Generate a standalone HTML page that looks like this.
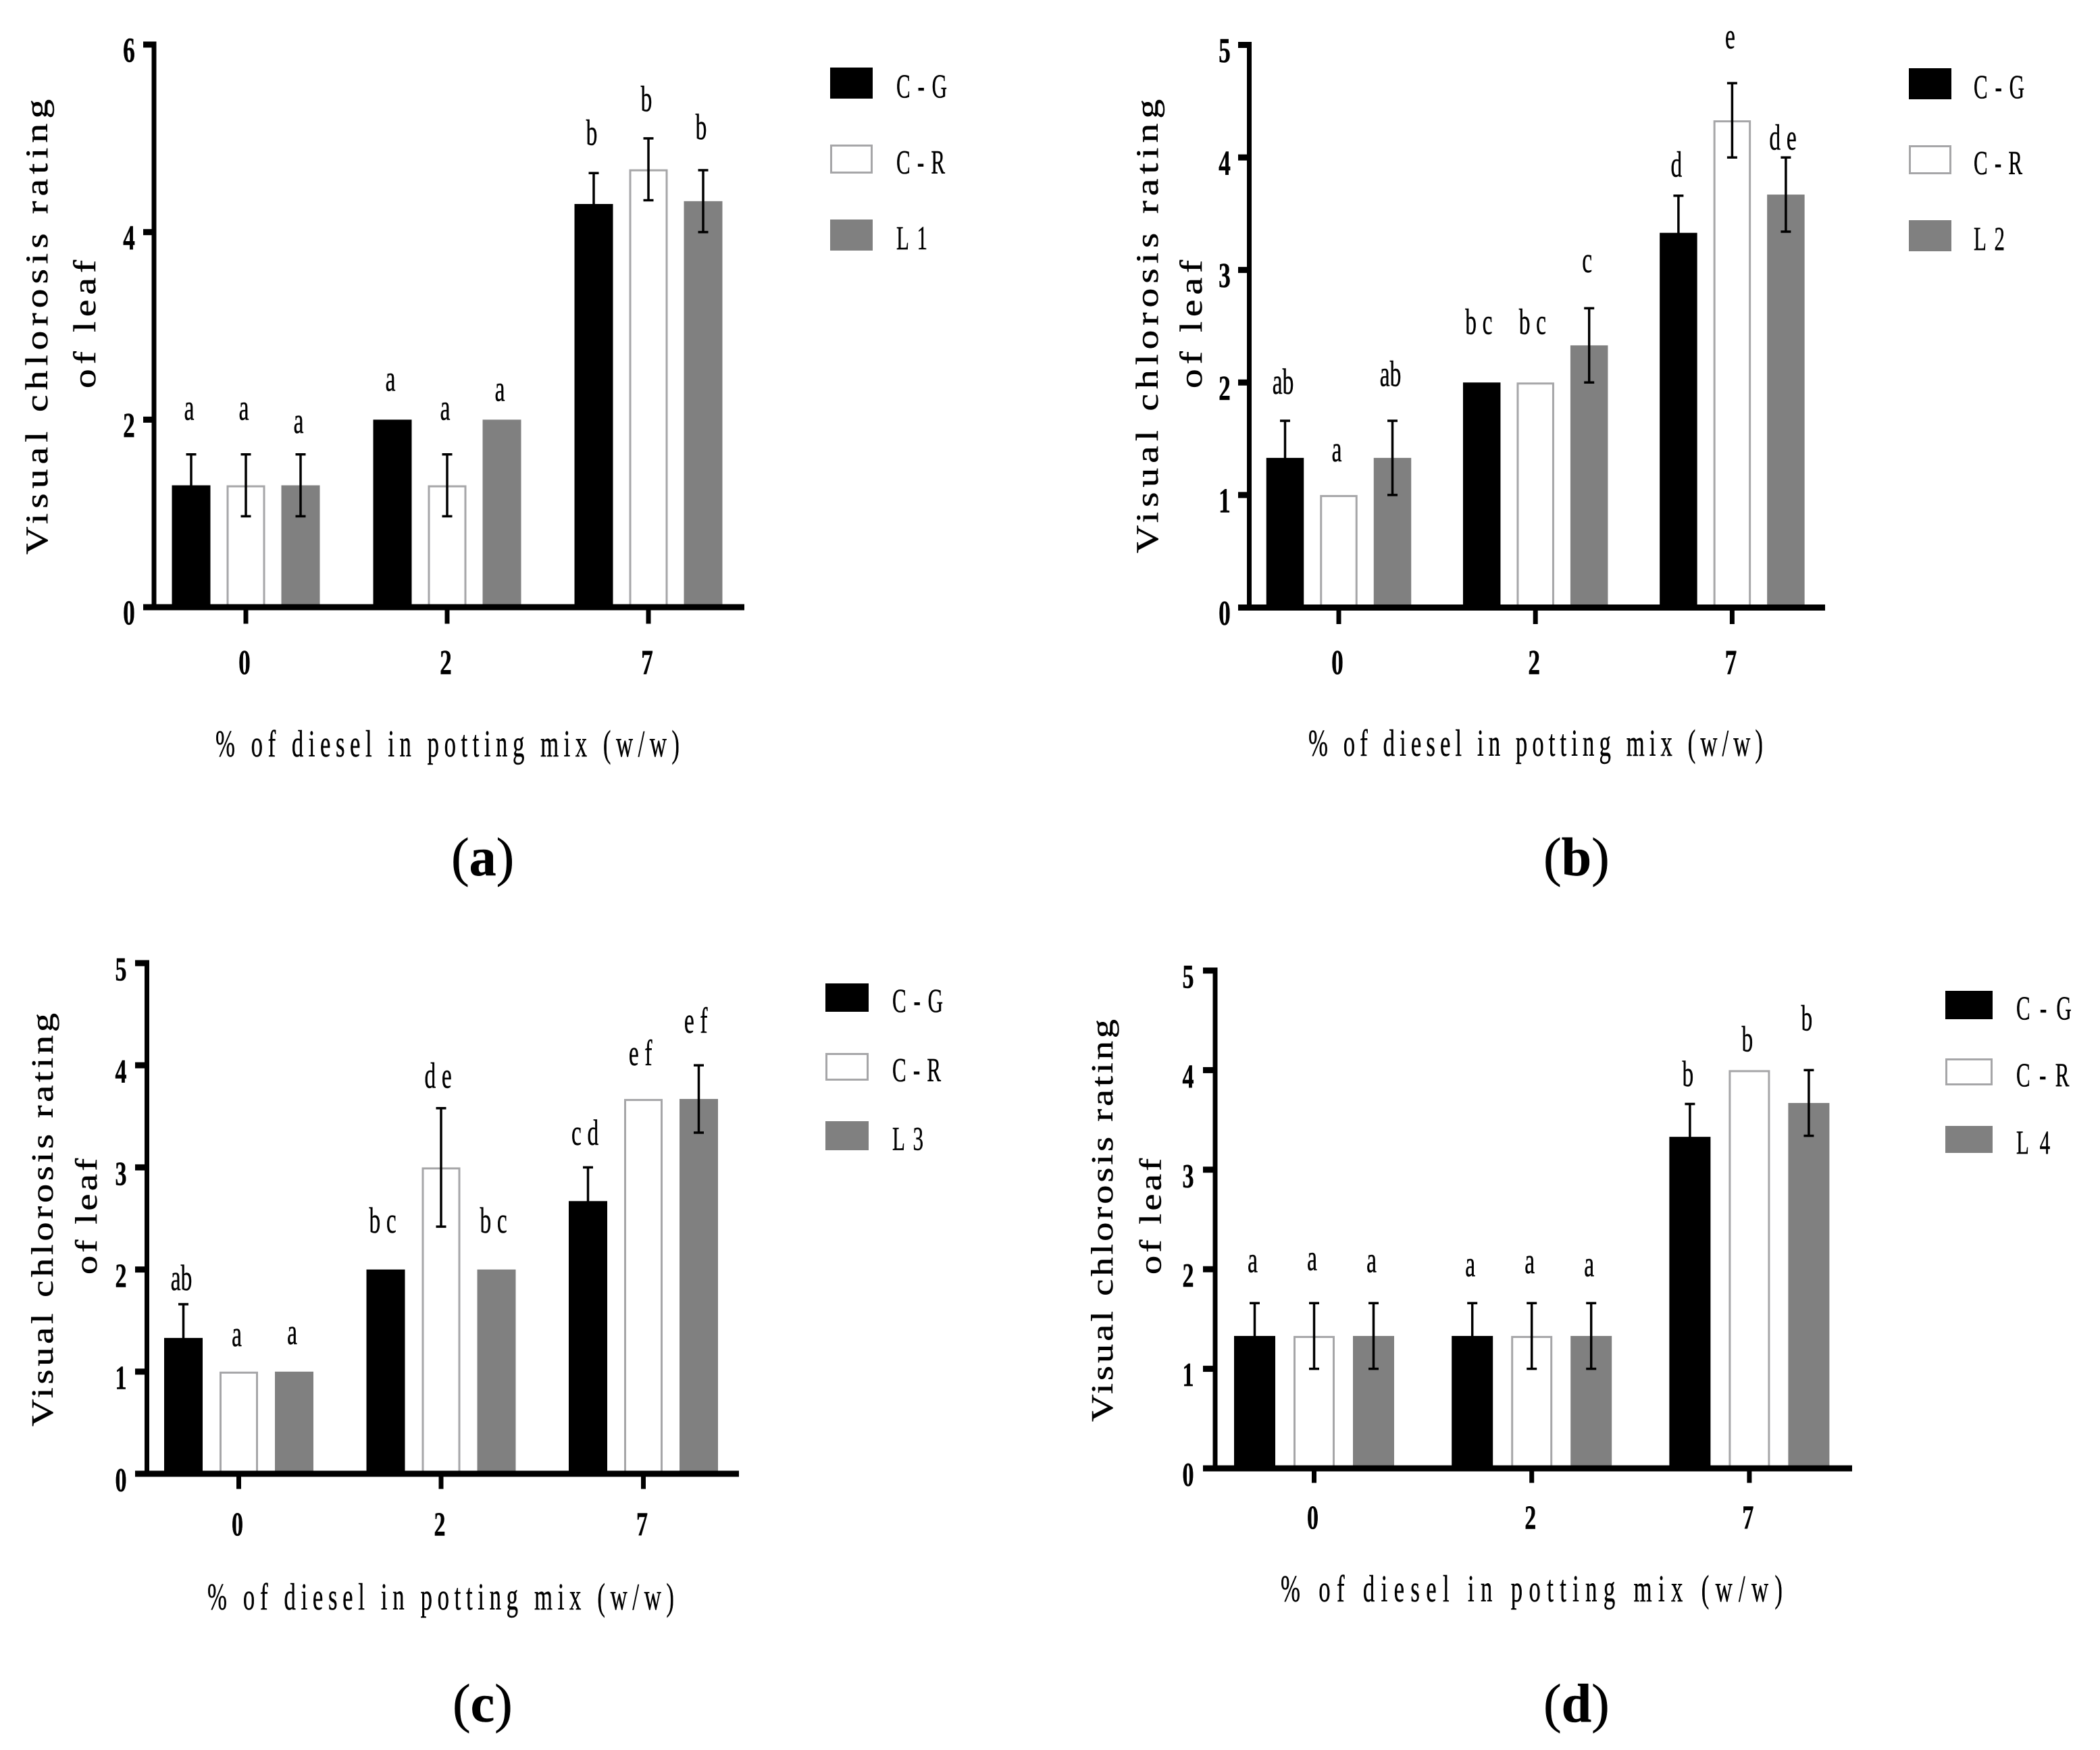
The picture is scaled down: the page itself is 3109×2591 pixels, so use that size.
<!DOCTYPE html>
<html lang="en">
<head>
<meta charset="utf-8">
<title>Visual chlorosis rating of leaf</title>
<style>
html,body{margin:0;padding:0;background:#fff;}
svg{display:block;}
text{font-family:"Liberation Serif",serif;fill:#000;stroke:#000;stroke-width:0.5px;}
</style>
</head>
<body>
<svg id="figure" xmlns="http://www.w3.org/2000/svg" width="3109" height="2591" viewBox="0 0 3109 2591"></svg>
<script>
// ---------- shared data ----------
const categories = ['0', '2', '7'];
const seriesKeys = ['C-G', 'C-R', 'LINE'];
const xTitle = '% of diesel in potting mix (w/w)';
const yTitleLine1 = 'Visual chlorosis rating';
const yTitleLine2 = 'of leaf';

// ---------- panel (a) ----------
const ticksA = [0, 2, 4, 6];
const valuesA_CG = [1.3, 2, 4.3];
const valuesA_CR = [1.3, 1.3, 4.67];
const valuesA_L = [1.3, 2, 4.33];
const errorsA_CG = [0.33, 0, 0.33];
const errorsA_CR = [0.33, 0.33, 0.33];
const errorsA_L = [0.33, 0, 0.33];
const lettersA_CG = ['a', 'a', 'b'];
const lettersA_CR = ['a', 'a', 'b'];
const lettersA_L = ['a', 'a', 'b'];
const letterLevelsA_CG = [2.0, 2.31, 4.93];
const letterLevelsA_CR = [2.0, 2.0, 5.29];
const letterLevelsA_L = [1.86, 2.2, 4.99];

// ---------- panel (b) ----------
const ticksB = [0, 1, 2, 3, 4, 5];
const valuesB_CG = [1.33, 2, 3.33];
const valuesB_CR = [1, 2, 4.33];
const valuesB_L = [1.33, 2.33, 3.67];
const errorsB_CG = [0.33, 0, 0.33];
const errorsB_CR = [0, 0, 0.33];
const errorsB_L = [0.33, 0.33, 0.33];
const lettersB_CG = ['ab', 'bc', 'd'];
const lettersB_CR = ['a', 'bc', 'e'];
const lettersB_L = ['ab', 'c', 'de'];
const letterLevelsB_CG = [1.90, 2.43, 3.83];
const letterLevelsB_CR = [1.30, 2.43, 4.97];
const letterLevelsB_L = [1.97, 2.98, 4.07];

// ---------- panel (c) ----------
const ticksC = [0, 1, 2, 3, 4, 5];
const valuesC_CG = [1.33, 2, 2.67];
const valuesC_CR = [1, 3, 3.67];
const valuesC_L = [1, 2, 3.67];
const errorsC_CG = [0.33, 0, 0.33];
const errorsC_CR = [0, 0.58, 0];
const errorsC_L = [0, 0, 0.33];
const lettersC_CG = ['ab', 'bc', 'cd'];
const lettersC_CR = ['a', 'de', 'ef'];
const lettersC_L = ['a', 'bc', 'ef'];
const letterLevelsC_CG = [1.80, 2.36, 3.22];
const letterLevelsC_CR = [1.25, 3.78, 4.00];
const letterLevelsC_L = [1.27, 2.36, 4.32];

// ---------- panel (d) ----------
const ticksD = [0, 1, 2, 3, 4, 5];
const valuesD_CG = [1.33, 1.33, 3.33];
const valuesD_CR = [1.33, 1.33, 4];
const valuesD_L = [1.33, 1.33, 3.67];
const errorsD_CG = [0.33, 0.33, 0.33];
const errorsD_CR = [0.33, 0.33, 0];
const errorsD_L = [0.33, 0.33, 0.33];
const lettersD_CG = ['a', 'a', 'b'];
const lettersD_CR = ['a', 'a', 'b'];
const lettersD_L = ['a', 'a', 'b'];
const letterLevelsD_CG = [1.97, 1.93, 3.84];
const letterLevelsD_CR = [1.99, 1.96, 4.19];
const letterLevelsD_L = [1.97, 1.93, 4.40];

const NS = 'http://www.w3.org/2000/svg';
const root = document.getElementById('figure');

function mk(tag, attrs, parent) {
  const el = document.createElementNS(NS, tag);
  for (const k in attrs) el.setAttribute(k, attrs[k]);
  parent.appendChild(el);
  return el;
}

// Narrow, spaced text: local horizontal scale plus an overall target length.
function label(parent, str, x, y, o) {
  const sx = o.sx || 0.62;
  const g = mk('g', { transform: 'translate(' + x + ',' + y + ')' + (o.rot ? ' rotate(-90)' : '') + ' scale(' + sx + ',1)' }, parent);
  const a = { 'font-size': o.size, x: 0, y: 0 };
  if (o.bold) a['font-weight'] = 'bold';
  if (o.anchor) a['text-anchor'] = o.anchor;
  if (o.len) { a.textLength = o.len / sx; a.lengthAdjust = 'spacing'; }
  if (o.ls) a['letter-spacing'] = o.ls;
  const t = mk('text', a, g);
  t.textContent = str;
  return t;
}

const panels = [
  { id: 'a', lineName: 'L1', ticks: ticksA, max: 6,
    values: [valuesA_CG, valuesA_CR, valuesA_L], errors: [errorsA_CG, errorsA_CR, errorsA_L],
    letters: [lettersA_CG, lettersA_CR, lettersA_L], levels: [letterLevelsA_CG, letterLevelsA_CR, letterLevelsA_L],
    axisX: 228, base: 899, top: 66, left: 212, right: 1102, tick0: 364, pitch: 298, off: 81, bw: 57, tickLen: 24,
    yLabelX: 191, digit: 52, xLabelShift: -2, xLabelY: 998,
    xt: [319, 1120, 687], y1: [70, 821, 674], y2: [141, 575, 190], ySize: 47,
    legX: 1229, legW: 63, legY: [100, 214, 325], legH: [46, 43, 46], legTextX: 1327, legK: 1,
    tag: [668, 1296] },
  { id: 'b', lineName: 'L2', ticks: ticksB, max: 5,
    values: [valuesB_CG, valuesB_CR, valuesB_L], errors: [errorsB_CG, errorsB_CR, errorsB_L],
    letters: [lettersB_CG, lettersB_CR, lettersB_L], levels: [letterLevelsB_CG, letterLevelsB_CR, letterLevelsB_L],
    axisX: 1849.5, base: 899.5, top: 66.5, left: 1833, right: 2702, tick0: 1982, pitch: 291.2, off: 79.5, bw: 55.5, tickLen: 24,
    yLabelX: 1813, digit: 52, xLabelShift: -2, xLabelY: 998,
    xt: [1937, 1119, 673], y1: [1714, 819, 672], y2: [1779, 575, 190], ySize: 47,
    legX: 2826, legW: 63, legY: [101, 215, 326], legH: [46, 43, 46], legTextX: 2922, legK: 1,
    tag: [2285, 1296] },
  { id: 'c', lineName: 'L3', ticks: ticksC, max: 5,
    values: [valuesC_CG, valuesC_CR, valuesC_L], errors: [errorsC_CG, errorsC_CR, errorsC_L],
    letters: [lettersC_CG, lettersC_CR, lettersC_L], levels: [letterLevelsC_CG, letterLevelsC_CR, letterLevelsC_L],
    axisX: 217.5, base: 2182, top: 1426, left: 200, right: 1094, tick0: 353.5, pitch: 299.5, off: 82, bw: 57, tickLen: 22,
    yLabelX: 179, digit: 50, xLabelShift: -2, xLabelY: 2273,
    xt: [307, 2383, 691], y1: [78, 2112, 612], y2: [143, 1887, 172], ySize: 46,
    legX: 1222, legW: 64, legY: [1456, 1559, 1660], legH: [42, 41, 43], legTextX: 1321, legK: 1,
    tag: [670, 2549] },
  { id: 'd', lineName: 'L4', ticks: ticksD, max: 5,
    values: [valuesD_CG, valuesD_CR, valuesD_L], errors: [errorsD_CG, errorsD_CR, errorsD_L],
    letters: [lettersD_CG, lettersD_CR, lettersD_L], levels: [letterLevelsD_CG, letterLevelsD_CR, letterLevelsD_L],
    axisX: 1799, base: 2174, top: 1437, left: 1781, right: 2742, tick0: 1945.5, pitch: 322.2, off: 88, bw: 61, tickLen: 21,
    yLabelX: 1759, digit: 50, xLabelShift: -2, xLabelY: 2263,
    xt: [1896, 2371, 743], y1: [1647, 2105, 596], y2: [1718.5, 1887, 172], ySize: 46,
    legX: 2880, legW: 70, legY: [1467, 1567, 1667], legH: [42, 40, 40], legTextX: 2985, legK: 1.09,
    tag: [2285, 2549] }
];

panels.forEach(function (p) {
  const yScale = function (v) { return p.base - (p.base - p.top) * v / p.max; };
  const xScale = function (cat, s) { return p.tick0 + p.pitch * cat + (s - 1) * p.off; };

  const g = mk('g', {}, root);
  
  

  // bars
  p.values.forEach(function (series, s) {
    series.forEach(function (v, c) {
      const cx = xScale(c, s), yTop = yScale(v);
      const a = s === 1
        ? { x: cx - p.bw / 2 + 1.5, y: yTop + 1.5, width: p.bw - 3, height: p.base - yTop, fill: '#fff', stroke: '#a6a6a8', 'stroke-width': 3 }
        : { x: cx - p.bw / 2, y: yTop, width: p.bw, height: p.base - yTop, fill: s === 0 ? '#000' : '#808080' };
      const bar = mk('rect', a, g);
      
      
    });
  });

  // error bars
  p.errors.forEach(function (series, s) {
    series.forEach(function (e, c) {
      if (!e) return;
      const cx = xScale(c, s), v = p.values[s][c];
      const eb = mk('path', {
        d: 'M' + cx + ' ' + yScale(v + e) + 'V' + yScale(v - e) +
           'M' + (cx - 7.5) + ' ' + yScale(v + e) + 'H' + (cx + 7.5) +
           'M' + (cx - 7.5) + ' ' + yScale(v - e) + 'H' + (cx + 7.5),
        fill: 'none', stroke: '#000', 'stroke-width': 3.5
      }, g);
      
      
    });
  });

  // significance letters
  p.letters.forEach(function (series, s) {
    series.forEach(function (str, c) {
      const wide = str.length > 1 && str !== 'ab';
      const t = label(g, str, xScale(c, s) - (wide ? 0 : 3), p.base - (p.base - p.top) * p.levels[s][c] / p.max, { size: 54, anchor: 'middle', ls: wide ? 14 : 0 });
      
      
    });
  });

  // axes
  const yAxis = mk('rect', { x: p.axisX - 3.5, y: p.top - 4.5, width: 7, height: p.base - p.top + 9, fill: '#000' }, g);
  
  
  const xAxis = mk('rect', { x: p.left, y: p.base - 4.5, width: p.right - p.left, height: 9, fill: '#000' }, g);
  
  

  p.ticks.forEach(function (v) {
    const tk = mk('rect', { x: p.left, y: yScale(v) - 4.5, width: p.axisX - p.left, height: 9, fill: '#000' }, g);
    
    
    const t = label(g, String(v), p.yLabelX, yScale(v) + 25.5, { size: p.digit, bold: true, anchor: 'middle', sx: 0.68 });
    
    
  });

  categories.forEach(function (cat, c) {
    const cx = xScale(c, 1);
    const tk = mk('rect', { x: cx - 3.5, y: p.base + 4, width: 7, height: p.tickLen - 4 + 0.5, fill: '#000' }, g);
    
    
    const t = label(g, cat, cx + p.xLabelShift, p.xLabelY, { size: p.digit, bold: true, anchor: 'middle', sx: 0.68 });
    
    
  });

  // axis titles
  const xt = label(g, xTitle, p.xt[0], p.xt[1], { size: 56, len: p.xt[2] });
  
  
  const y1 = label(g, yTitleLine1, p.y1[0], p.y1[1], { size: p.ySize, rot: true, sx: 1.22, len: p.y1[2] });
  
  
  const y2 = label(g, yTitleLine2, p.y2[0], p.y2[1], { size: p.ySize, rot: true, sx: 1.22, len: p.y2[2] });
  
  

  // legend
  const legendNames = ['C-G', 'C-R', p.lineName];
  const legendLens = [75, 72, 46];
  legendNames.forEach(function (name, s) {
    const h = p.legH[s], yy = p.legY[s];
    const a = s === 1
      ? { x: p.legX + 1.5, y: yy + 1.5, width: p.legW - 3, height: h - 3, fill: '#fff', stroke: '#a6a6a8', 'stroke-width': 3 }
      : { x: p.legX, y: yy, width: p.legW, height: h, fill: s === 0 ? '#000' : '#808080' };
    const sw = mk('rect', a, g);
    
    
    const t = label(g, name, p.legTextX, yy + h / 2 + 21, { size: 50, len: legendLens[s] * p.legK });
    
    
  });

  // panel tag
  const tag = mk('text', { x: p.tag[0], y: p.tag[1], 'font-size': 80 }, g);
  
  
  const t1 = mk('tspan', {}, tag);
  t1.textContent = '(';
  const t2 = mk('tspan', { 'font-weight': 'bold' }, tag);
  t2.textContent = p.id;
  const t3 = mk('tspan', {}, tag);
  t3.textContent = ')';
});
</script>
</body>
</html>
